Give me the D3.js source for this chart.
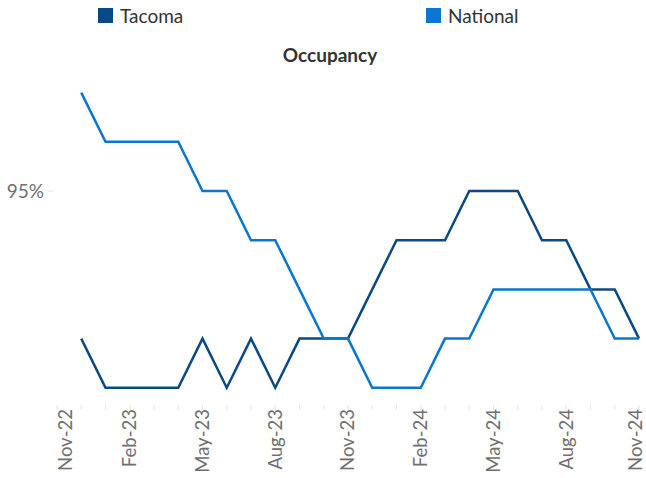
<!DOCTYPE html>
<html>
<head>
<meta charset="utf-8">
<script src="https://cdn.jsdelivr.net/npm/d3@7"></script>
<style>
  body { margin: 0; background: #fff; }
  svg { display: block; font-family: Lato, 'Open Sans', sans-serif; }
</style>
</head>
<body>
<svg id="chart" width="646" height="478"></svg>
<script>
// months on the axis (Nov-22 .. Nov-24)
var months = ["Nov-22","Dec-22","Jan-23","Feb-23","Mar-23","Apr-23","May-23","Jun-23","Jul-23","Aug-23","Sep-23","Oct-23",
              "Nov-23","Dec-23","Jan-24","Feb-24","Mar-24","Apr-24","May-24","Jun-24","Jul-24","Aug-24","Sep-24","Oct-24","Nov-24"];
var tickLabels = ["Nov-22","Feb-23","May-23","Aug-23","Nov-23","Feb-24","May-24","Aug-24","Nov-24"];
var yTicks = [95];

// occupancy %, no value for Nov-22
var tacoma   = [null, 94.7, 94.6, 94.6, 94.6, 94.6, 94.7, 94.6, 94.7, 94.6, 94.7, 94.7,
                94.7, 94.8, 94.9, 94.9, 94.9, 95.0, 95.0, 95.0, 94.9, 94.9, 94.8, 94.8, 94.7];
var national = [null, 95.2, 95.1, 95.1, 95.1, 95.1, 95.0, 95.0, 94.9, 94.9, 94.8, 94.7,
                94.7, 94.6, 94.6, 94.6, 94.7, 94.7, 94.8, 94.8, 94.8, 94.8, 94.8, 94.7, 94.7];

var series = [
  { name: "Tacoma", values: tacoma, color: "#0a4a84", lx: 98 },
  { name: "National", values: national, color: "#0b76d0", lx: 426 }
];

var svg = d3.select("#chart");

var x = d3.scalePoint().domain(months).range([57, 639]);
var y = d3.scaleLinear().domain([94.567, 95.246]).range([404, 70]);

// legend
var leg = svg.selectAll("g.leg").data(series).enter().append("g").attr("class", "leg");
leg.append("rect")
  .attr("x", function(d) { return d.lx; })
  .attr("y", 8)
  .attr("width", 15).attr("height", 15)
  .attr("fill", function(d) { return d.color; });
leg.append("text")
  .attr("x", function(d) { return d.lx + 22; })
  .attr("y", 22.5)
  .attr("font-size", 19)
  .attr("fill", "#333")
  .text(function(d) { return d.name; });

// title
svg.append("text")
  .attr("x", 330).attr("y", 62)
  .attr("text-anchor", "middle")
  .attr("font-size", 19)
  .attr("font-weight", "bold")
  .attr("fill", "#333")
  .text("Occupancy");

// y axis label (only 95%)
svg.selectAll("text.ytick").data(yTicks).enter().append("text")
  .attr("class", "ytick")
  .attr("x", 44)
  .attr("y", function(d) { return y(d); })
  .attr("dy", "0.35em")
  .attr("text-anchor", "end")
  .attr("font-size", 19)
  .attr("fill", "#707070")
  .text(function(d) { return d + "%"; });
svg.selectAll("line.ytick").data(yTicks).enter().append("line")
  .attr("class", "ytick")
  .attr("x1", 47).attr("x2", 53)
  .attr("y1", function(d) { return y(d); })
  .attr("y2", function(d) { return y(d); })
  .attr("stroke", "#e6e6e6");

// month tick marks
svg.selectAll("line.mtick").data(months).enter().append("line")
  .attr("class", "mtick")
  .attr("x1", function(d) { return x(d); })
  .attr("x2", function(d) { return x(d); })
  .attr("y1", 405).attr("y2", 410)
  .attr("stroke", "#e6e6e6");

// x labels, rotated; end ones get pushed in so they stay inside
svg.selectAll("text.xlab").data(tickLabels).enter().append("text")
  .attr("class", "xlab")
  .attr("transform", function(d) {
    var px = Math.min(Math.max(x(d), 66), 636);
    return "translate(" + px + ",409) rotate(-90)";
  })
  .attr("dy", "0.35em")
  .attr("text-anchor", "end")
  .attr("font-size", 18.5)
  .attr("fill", "#707070")
  .text(function(d) { return d; });

// lines
var line = d3.line()
  .defined(function(d) { return d != null; })
  .x(function(d, i) { return x(months[i]); })
  .y(function(d) { return y(d); });

svg.selectAll("path.series").data(series).enter().append("path")
  .attr("class", "series")
  .attr("d", function(d) { return line(d.values); })
  .attr("fill", "none")
  .attr("stroke", function(d) { return d.color; })
  .attr("stroke-width", 2.5)
  .attr("stroke-linejoin", "miter");
</script>
</body>
</html>
